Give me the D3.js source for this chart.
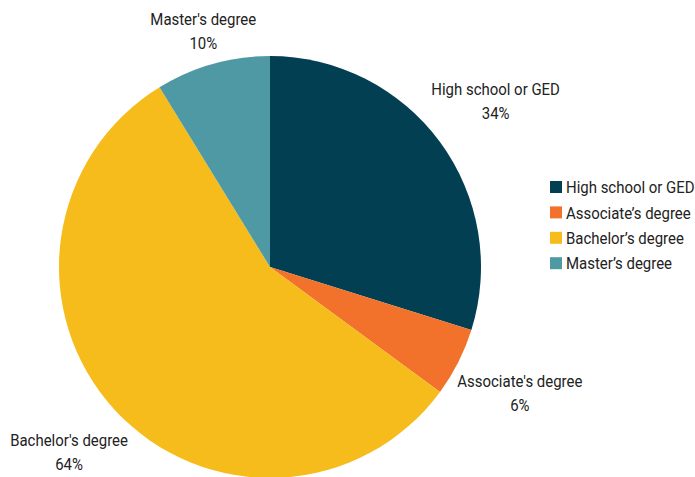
<!DOCTYPE html>
<html><head><meta charset="utf-8">
<script src="https://cdn.jsdelivr.net/npm/d3@7"></script>
<style>body{margin:0;background:#fff}svg{display:block}text{font-family:Roboto,sans-serif;fill:#222}</style>
</head><body><svg id="c" width="695" height="477"></svg>
<script>
const categories = ["High school or GED","Associate's degree","Bachelor's degree","Master's degree"];
const legendLabels = ["High school or GED","Associate\u2019s degree","Bachelor\u2019s degree","Master\u2019s degree"];
const values = [34, 6, 64, 10];
const colors = ["#023f53","#f3722b","#f5bc1b","#4f99a5"];

const svg = d3.select("#c");
const W = 695, H = 477;
const cx = 270, cy = 267, R = 211, SX = 0.88, FS = 17;
const pie = d3.pie().sort(null).value(d => d.v);
const data = pie(categories.map((c,i)=>({c, v:values[i], lab:legendLabels[i], col:colors[i]})));
const arc = d3.arc().innerRadius(0).outerRadius(R);
const g = svg.append("g").attr("transform",`translate(${cx},${cy})`);
g.selectAll("path").data(data).join("path").attr("d",arc).attr("fill",d=>d.data.col);

data.forEach(d=>{
  const a = (d.startAngle + d.endAngle)/2;
  const s = Math.sin(a), c = -Math.cos(a);
  let r = 280;
  if (c < 0) r = Math.min(r, (cy - 31) / -c);
  if (c > 0) r = Math.min(r, (H - cy - 25) / c);
  const x = r*s, y = r*c;
  const t = g.append("g").attr("transform",`translate(${x},${y}) scale(${SX},1)`);
  t.append("text").attr("text-anchor","middle").attr("y",-6).attr("font-size",FS).text(d.data.c);
  t.append("text").attr("text-anchor","middle").attr("y",18).attr("font-size",FS).text(d.data.v+"%");
});

const leg = svg.append("g").attr("transform","translate(550,187)");
const row = leg.selectAll("g").data(data).join("g").attr("transform",(d,i)=>`translate(0,${i*25.4})`);
row.append("rect").attr("x",0).attr("y",-6).attr("width",12).attr("height",12).attr("fill",d=>d.data.col);
row.append("text").attr("transform",`translate(16,0) scale(${SX},1)`).attr("dy","0.36em").attr("font-size",FS).text(d=>d.data.lab);
</script></body></html>
